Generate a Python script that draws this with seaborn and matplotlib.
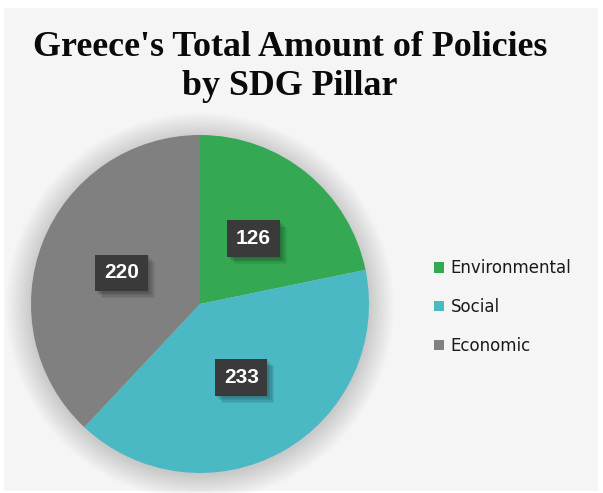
import matplotlib
matplotlib.use("Agg")
import matplotlib.pyplot as plt
import matplotlib.patches as mpatches
import matplotlib.patheffects as pe
import seaborn as sns

# Policy counts per SDG pillar
pillars = ["Environmental", "Social", "Economic"]
policies = [126, 233, 220]
title = "Greece's Total Amount of Policies\nby SDG Pillar"

sns.set_theme(style="white")
palette = sns.color_palette(["#35a853", "#4ab9c4", "#808080"])

W, H = 603, 493
fig = plt.figure(figsize=(W / 100, H / 100), dpi=100)
fig.patch.set_facecolor("white")

# light panel behind the chart
bg = fig.add_axes([4 / W, 2 / H, 594 / W, 483 / H], zorder=-1)
bg.set_facecolor("#f5f5f5")
bg.set_xticks([])
bg.set_yticks([])
for s in bg.spines.values():
    s.set_visible(False)

fig.text(290 / W, 1 - 67 / H, title, ha="center", va="center",
         family="Liberation Serif", fontweight="bold", fontsize=25.8,
         linespacing=1.27, color="#0a0a0a")

# pie axes: centre (200, 304) px, radius 169 px, limits +-1.2
cx, cy, r = 200, 304, 169
ext = 1.2
side = 2 * r * ext
ax = fig.add_axes([(cx - r * ext) / W, (H - cy - r * ext) / H, side / W, side / H],
                  zorder=1)
ax.axis("off")

# soft drop shadow around the pie
for i in range(22):
    rad = 1.0 + 0.007 * i
    ax.add_patch(mpatches.Circle((0.0, -0.015), rad, facecolor="black",
                                 edgecolor="none", alpha=0.0065, zorder=0))

total = sum(policies)
wedges, texts, autotexts = ax.pie(
    policies, colors=palette, startangle=90, counterclock=False,
    radius=1.0, pctdistance=0.5,
    autopct=lambda p: f"{round(p * total / 100):d}",
    wedgeprops=dict(linewidth=0, zorder=2),
    textprops=dict(color="white", fontsize=15, fontweight="bold",
                   family="Liberation Sans"),
)
ax.set_xlim(-ext, ext)
ax.set_ylim(-ext, ext)

# soft shadow under each value box, built from a few offset copies
box_shadow = [pe.SimplePatchShadow(offset=(d, -d), shadow_rgbFace="black", alpha=0.07)
              for d in (1, 2, 3, 4, 5)]
for t in autotexts:
    t.set_zorder(5)
    t.set_bbox(dict(boxstyle="square,pad=0.42", facecolor="#3a3a3a",
                    edgecolor="none"))
    t.get_bbox_patch().set_path_effects(box_shadow + [pe.Normal()])

handles = [mpatches.Patch(facecolor=c, edgecolor="none") for c in palette]
fig.legend(handles, pillars, loc="center left",
           bbox_to_anchor=(419 / W, 1 - 307 / H), frameon=False,
           handlelength=0.6, handleheight=0.6, handletextpad=0.4,
           labelspacing=1.25, labelcolor="#1a1a1a",
           prop=dict(family="DejaVu Sans", size=12))

fig.savefig("out.png", dpi=100, facecolor="white")
